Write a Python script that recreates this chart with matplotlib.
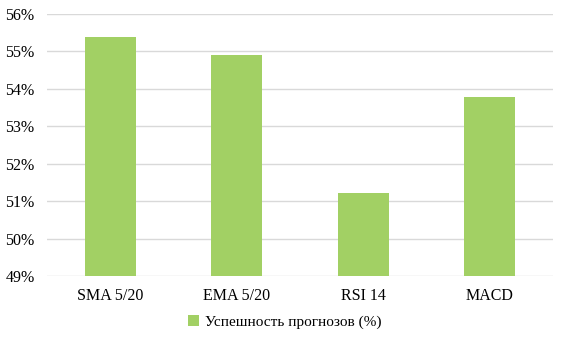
import matplotlib
matplotlib.use("Agg")
import matplotlib.pyplot as plt
from matplotlib.ticker import FuncFormatter

categories = ["SMA 5/20", "EMA 5/20", "RSI 14", "MACD"]
values = [55.38, 54.91, 51.23, 53.78]
series_name = "Успешность прогнозов (%)"
yticks = [49, 50, 51, 52, 53, 54, 55, 56]

plt.rcParams['font.family'] = ['Liberation Serif', 'DejaVu Serif']

fig = plt.figure(figsize=(5.67, 3.39), dpi=100)
ax = fig.add_axes([47/567, 63/339, 506/567, 262/339])

x = list(range(len(categories)))
bars = ax.bar(x, values, width=0.4, color="#A2D064", label=series_name, zorder=3)

ax.set_ylim(49, 56)
ax.set_xlim(-0.5, len(categories) - 0.5)
ax.set_yticks(yticks)
ax.yaxis.set_major_formatter(FuncFormatter(lambda v, p: f"{v:.0f}%"))
ax.set_xticks(x)
ax.set_xticklabels(categories)
ax.grid(axis="y", color="#d9d9d9", linewidth=1.0, zorder=0)
for s in ax.spines.values():
    s.set_visible(False)
ax.tick_params(axis="both", length=0, labelsize=11.5, colors="#000000")
ax.tick_params(axis="y", pad=9)
ax.tick_params(axis="x", pad=9)

leg = fig.legend(handles=[bars], labels=[series_name], loc="center",
                 bbox_to_anchor=(285/567, 1 - 322/339), frameon=False,
                 fontsize=11, handlelength=0.7, handleheight=0.7, handletextpad=0.4)

fig.savefig("out.png", dpi=100)
